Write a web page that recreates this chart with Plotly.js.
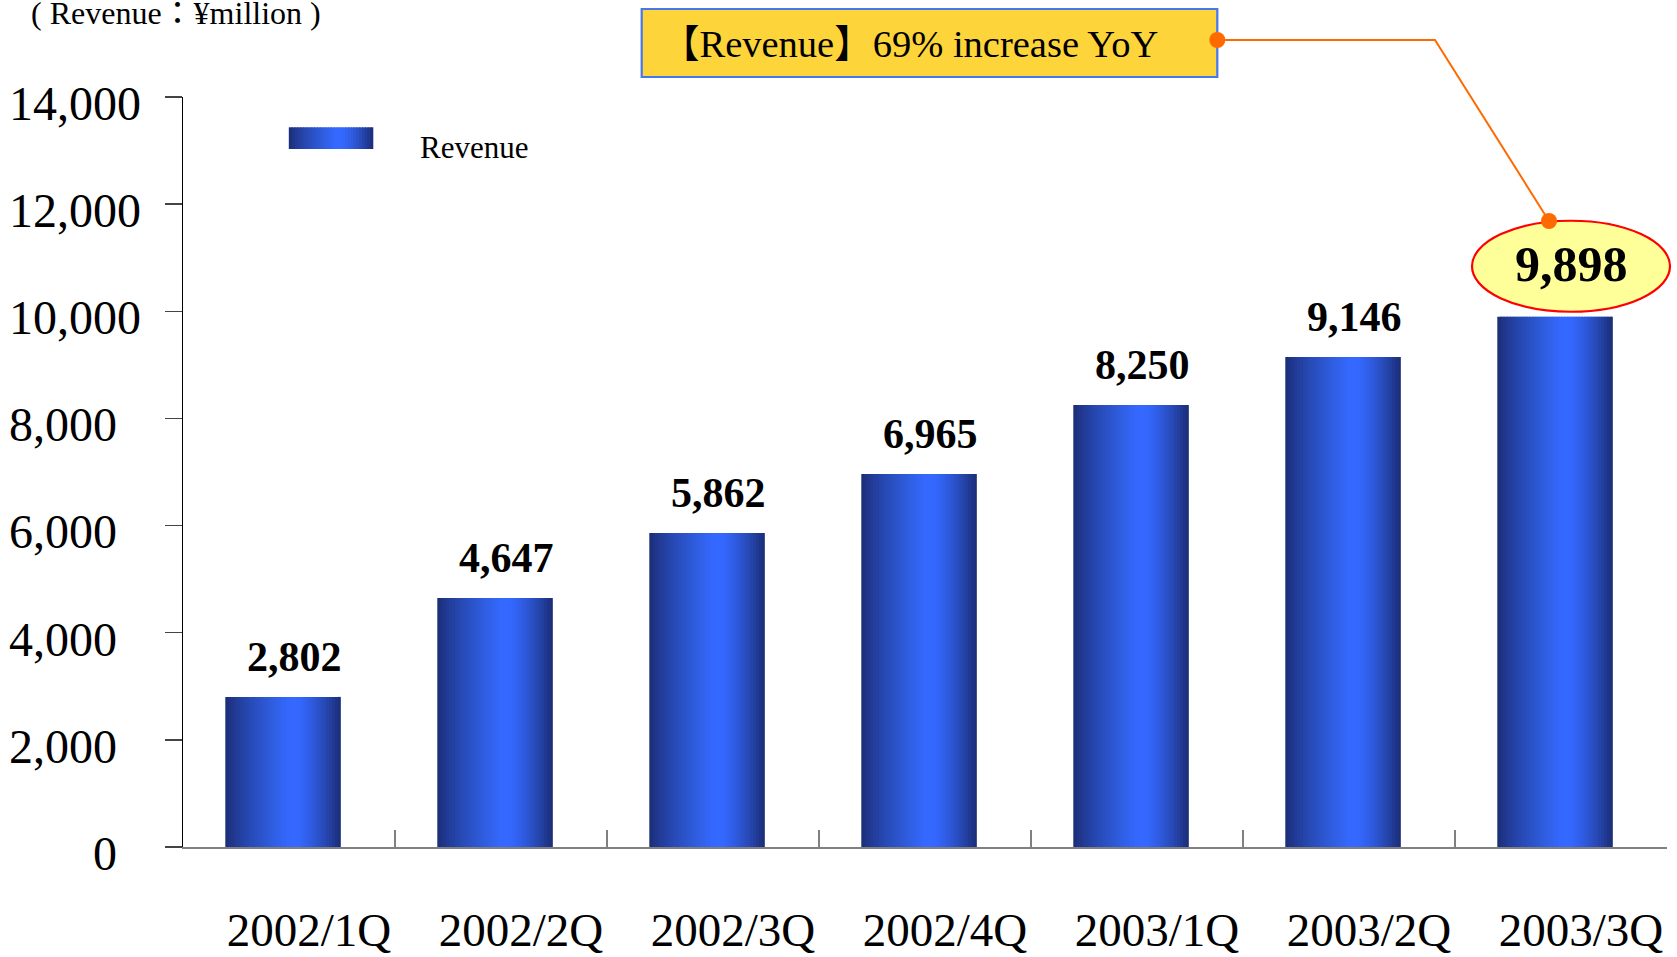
<!DOCTYPE html>
<html>
<head>
<meta charset="utf-8">
<script src="https://cdn.plot.ly/plotly-3.0.1.min.js"></script>
<style>
  html, body { margin: 0; padding: 0; background: #ffffff; }
  #chart { width: 1677px; height: 957px; }
</style>
</head>
<body>
<div id="chart"></div>
<script>
// ---------------- data ----------------
const categories = ['2002/1Q', '2002/2Q', '2002/3Q', '2002/4Q', '2003/1Q', '2003/2Q', '2003/3Q'];
const revenue = [2802, 4647, 5862, 6965, 8250, 9146, 9898];
const valueLabels = ['2,802', '4,647', '5,862', '6,965', '8,250', '9,146', '9,898'];
const yTickValues = [0, 2000, 4000, 6000, 8000, 10000, 12000, 14000];
const yTickLabels = ['0', '2,000', '4,000', '6,000', '8,000', '10,000', '12,000', '14,000'];
const seriesName = 'Revenue';
const unitLabel = '( Revenue\uFF1A\u00A5million )';

// ---------------- layout geometry ----------------
const W = 1677, H = 957;
const PL = 183, PR = 10, PT = 97, PB = 110;
const PW = W - PL - PR, PH = H - PT - PB;
const px = x => (x - PL) / PW;
const py = y => (PT + PH - y) / PH;

const SERIF = '"Liberation Serif", "Times New Roman", "Noto Sans CJK JP", serif';
const n = categories.length;
const last = n - 1;
const yMax = yTickValues[yTickValues.length - 1];

// horizontal cylinder-like gradient
const stops = [
  [0.00, '#1b2d74'], [0.07, '#213890'], [0.16, '#2544a8'], [0.28, '#2a51c4'],
  [0.42, '#305fe2'], [0.55, '#3468ff'], [0.63, '#3468ff'], [0.72, '#305fe8'],
  [0.82, '#2b50c6'], [0.90, '#2442a4'], [0.97, '#1d3282'], [1.00, '#1b2e78']
];
function hex2rgb(h) { return [1, 3, 5].map(i => parseInt(h.substr(i, 2), 16)); }
function grad(t) {
  for (let i = 0; i < stops.length - 1; i++) {
    const [t0, c0] = stops[i], [t1, c1] = stops[i + 1];
    if (t >= t0 && t <= t1) {
      const f = (t - t0) / (t1 - t0 || 1);
      const a = hex2rgb(c0), b = hex2rgb(c1);
      return 'rgb(' + a.map((v, j) => Math.round(v + (b[j] - v) * f)).join(',') + ')';
    }
  }
  return stops[stops.length - 1][1];
}

const BAR_W = 0.545;
const BAR_SHIFT = -0.028;
const barLeft = BAR_SHIFT - BAR_W / 2;
const N = 40;
const sw = BAR_W / N;

const traces = [];
for (let k = 0; k < N; k++) {
  traces.push({
    type: 'bar',
    name: seriesName,
    x: categories,
    y: revenue,
    offset: barLeft + k * sw,
    width: k < N - 1 ? sw * 1.7 : sw,
    marker: { color: grad((k + 0.5) / N), line: { width: 0 } },
    showlegend: false,
    hoverinfo: 'skip'
  });
}
// invisible helper trace for the boundary-tick axis
traces.push({
  type: 'scatter', mode: 'markers', xaxis: 'x2', yaxis: 'y',
  x: categories.map((_, i) => i), y: revenue,
  marker: { opacity: 0 }, showlegend: false, hoverinfo: 'skip'
});

const boundaries = categories.slice(1).map((_, i) => i + 0.5);

// ---------------- annotations ----------------
const pct = Math.round((revenue[last] / revenue[last - 4] - 1) * 100);
const annotations = [
  { xref: 'paper', yref: 'paper', x: px(28.6), y: py(13), xanchor: 'left', yanchor: 'middle',
    text: unitLabel, showarrow: false, font: { family: SERIF, size: 32, color: '#000' } },
  { xref: 'paper', yref: 'paper', x: px(418), y: py(147), xanchor: 'left', yanchor: 'middle',
    text: seriesName, showarrow: false, font: { family: SERIF, size: 31, color: '#000' } },
  { xref: 'paper', yref: 'paper', x: px(659), y: py(44), xanchor: 'left', yanchor: 'middle',
    text: '\u3010' + seriesName + '\u3011' + pct + '% increase YoY', showarrow: false,
    font: { family: SERIF, size: 38.5, color: '#000' } }
];
for (let i = 0; i < n; i++) {
  const isLast = i === last;
  annotations.push({
    xref: 'x', yref: 'y', x: categories[i], y: revenue[i],
    xanchor: 'center', yanchor: 'middle',
    xshift: isLast ? 10.5 : 5, yshift: isLast ? 52.5 : 40,
    text: valueLabels[i], showarrow: false,
    font: { family: SERIF, size: isLast ? 50 : 42, color: '#000', weight: 700 }
  });
}

// ---------------- shapes ----------------
const shapes = [];
// legend swatch (gradient)
const LS = { x0: 288.8, x1: 373.3, y0: 127.3, y1: 149 };
const LN = 30;
for (let k = 0; k < LN; k++) {
  const a = LS.x0 + (LS.x1 - LS.x0) * k / LN;
  const b = LS.x0 + (LS.x1 - LS.x0) * (k + 1) / LN + (k < LN - 1 ? 1 : 0);
  shapes.push({ type: 'rect', xref: 'paper', yref: 'paper', x0: px(a), x1: px(b), y0: py(LS.y1), y1: py(LS.y0),
    fillcolor: grad((k + 0.5) / LN), line: { width: 0 }, layer: 'above' });
}
// callout box
shapes.push({ type: 'rect', xref: 'paper', yref: 'paper', x0: px(641.7), x1: px(1217.3), y0: py(77), y1: py(9),
  fillcolor: '#fdd43a', line: { color: '#4676f0', width: 2.2 } });
// highlighted ellipse round last value (paper-anchored at the bar's data position so it is not clipped)
shapes.push({ type: 'circle', xref: 'paper', yref: 'paper', xsizemode: 'pixel', ysizemode: 'pixel',
  xanchor: (last + 0.5) / n, yanchor: revenue[last] / yMax, x0: -89, x1: 109, y0: 5, y1: 96,
  fillcolor: '#ffff99', line: { color: '#ff0000', width: 2.2 } });
// connector
shapes.push({ type: 'path', xref: 'paper', yref: 'paper',
  path: 'M ' + px(1217.3) + ' ' + py(40) + ' L ' + px(1435) + ' ' + py(40) + ' L ' + px(1549) + ' ' + py(221),
  line: { color: '#ff6a00', width: 2 } });
[[1217.3, 40], [1549, 221]].forEach(([cx, cy]) => {
  shapes.push({ type: 'circle', xref: 'paper', yref: 'paper', xsizemode: 'pixel', ysizemode: 'pixel',
    xanchor: px(cx), yanchor: py(cy), x0: -8, x1: 8, y0: -8, y1: 8,
    fillcolor: '#ff6a00', line: { width: 0 } });
});

const layout = {
  width: W, height: H,
  margin: { l: PL, r: PR, t: PT, b: PB, pad: 0 },
  paper_bgcolor: '#ffffff', plot_bgcolor: 'rgba(0,0,0,0)',
  font: { family: SERIF, color: '#000' },
  barmode: 'overlay',
  showlegend: false,
  xaxis: {
    type: 'category', range: [-0.5, n - 0.5], fixedrange: true,
    showline: true, linecolor: '#808080', linewidth: 2,
    ticks: '', showgrid: false, zeroline: false,
    tickfont: { family: SERIF, size: 47, color: '#000' },
    ticklabelshift: 20, ticklabelstandoff: 41
  },
  xaxis2: {
    overlaying: 'x', anchor: 'y', side: 'bottom', range: [-0.5, n - 0.5],
    tickmode: 'array', tickvals: boundaries, ticks: 'inside', ticklen: 17,
    tickcolor: '#808080', tickwidth: 1.5, showticklabels: false,
    showline: false, showgrid: false, zeroline: false, fixedrange: true
  },
  yaxis: {
    range: [0, yMax], fixedrange: true,
    tickmode: 'array', tickvals: yTickValues,
    ticktext: yTickLabels.map(t => t.length < 6 ? t + '\u2002' : t),
    ticks: 'outside', ticklen: 17, tickcolor: '#444', tickwidth: 1.3,
    showline: true, linecolor: '#000', linewidth: 1.3,
    showgrid: false, zeroline: false,
    tickfont: { family: SERIF, size: 48, color: '#000' },
    ticklabelstandoff: 14, ticklabelshift: 6
  },
  annotations: annotations,
  shapes: shapes
};

Plotly.newPlot('chart', traces, layout, { staticPlot: true, displayModeBar: false });
</script>
</body>
</html>
